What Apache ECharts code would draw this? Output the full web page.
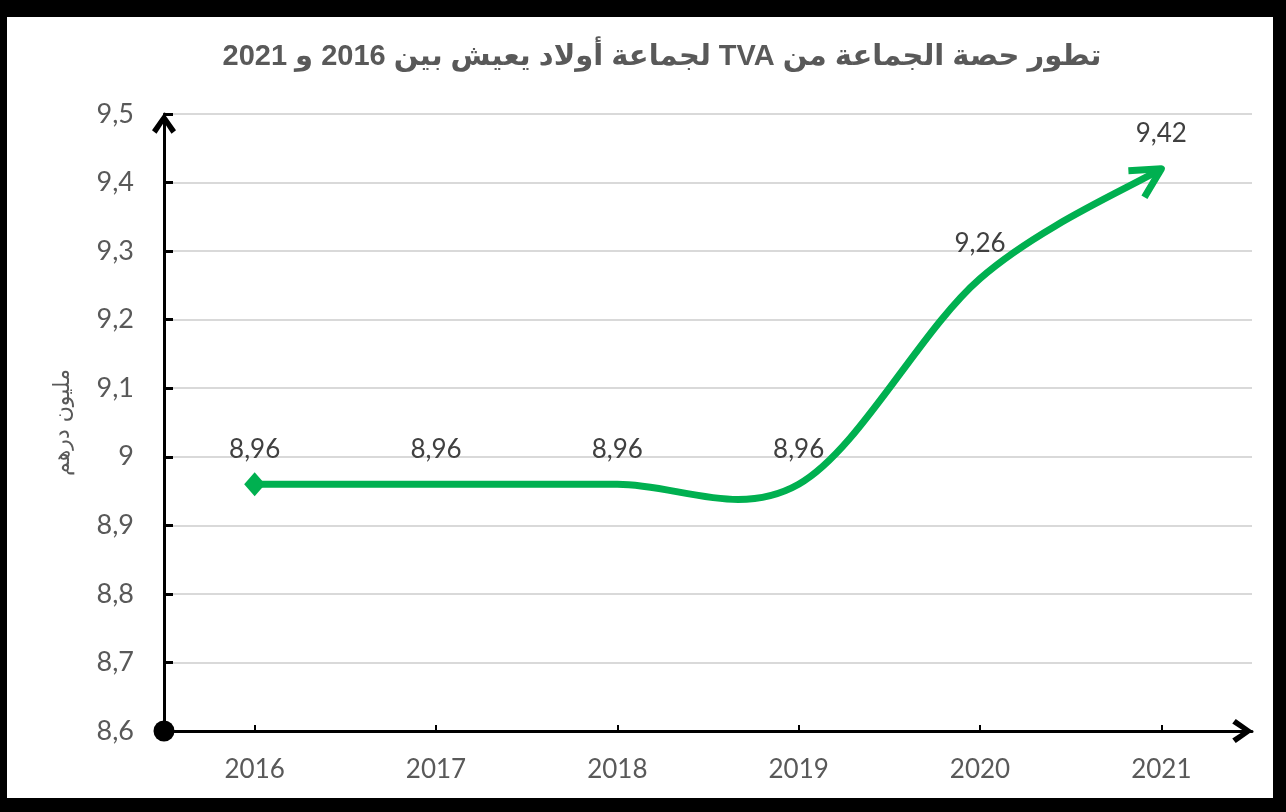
<!DOCTYPE html>
<html>
<head>
<meta charset="utf-8">
<script src="https://cdn.jsdelivr.net/npm/echarts@6/dist/echarts.min.js"></script>
<style>
  html, body { margin: 0; padding: 0; background: #000; }
  #chart { position: absolute; left: 7px; top: 17px; width: 1266px; height: 781px; background: #fff; }
</style>
</head>
<body>
<div id="chart"></div>
<script>
// السنوات والقيم (مليون درهم)
const years = ['2016', '2017', '2018', '2019', '2020', '2021'];
const values = [8.96, 8.96, 8.96, 8.96, 9.26, 9.42];
const yMin = 8.6, yMax = 9.5, yStep = 0.1;

const titleText = 'تطور حصة الجماعة من TVA لجماعة أولاد يعيش بين 2016 و 2021';
const yName = 'مليون درهم';

const green = '#00b050';
const comma = v => String(+Number(v).toFixed(2)).replace('.', ',');

// رأس سهم المحاور (شكل مفتوح)
const chevronUp = 'path://M12,0 L24,17 L19.5,20.5 L12,9 L4.5,20.5 L0,17 Z';

// منحنى أملس على طريقة Excel (Catmull-Rom) مع سهم في النهاية
function renderCurve(params, api) {
    if (params.dataIndex !== 0) return null;
    const pts = values.map((v, i) => api.coord([i, v]));
    const n = pts.length;
    let d = 'M' + pts[0][0] + ',' + pts[0][1];
    for (let i = 0; i < n - 1; i++) {
        const p0 = pts[Math.max(i - 1, 0)], p1 = pts[i], p2 = pts[i + 1], p3 = pts[Math.min(i + 2, n - 1)];
        const c1 = [p1[0] + (p2[0] - p0[0]) / 6, p1[1] + (p2[1] - p0[1]) / 6];
        const c2 = [p2[0] - (p3[0] - p1[0]) / 6, p2[1] - (p3[1] - p1[1]) / 6];
        d += ' C' + c1.join(',') + ' ' + c2.join(',') + ' ' + p2.join(',');
    }
    // اتجاه السهم من آخر مقطع
    const tip = pts[n - 1], prev = pts[n - 2];
    const ang = Math.atan2(tip[1] - prev[1], tip[0] - prev[0]);
    const arm = 33, spread = 28 * Math.PI / 180;
    const a1 = [tip[0] - arm * Math.cos(ang - spread), tip[1] - arm * Math.sin(ang - spread)];
    const a2 = [tip[0] - arm * Math.cos(ang + spread), tip[1] - arm * Math.sin(ang + spread)];
    return {
        type: 'group',
        children: [
            { type: 'path', shape: { pathData: d }, style: { fill: 'none', stroke: green, lineWidth: 7, lineCap: 'butt' } },
            { type: 'polyline', shape: { points: [a1, tip, a2] }, style: { fill: 'none', stroke: green, lineWidth: 7, lineJoin: 'round', lineCap: 'butt' } }
        ]
    };
}

const markers = values.map((v, i) => {
    if (i === 0) return { value: v, symbol: 'diamond', symbolSize: [21, 24], itemStyle: { color: green }, label: { distance: 10 } };
    return { value: v, symbol: 'circle', symbolSize: 2, itemStyle: { color: 'rgba(0,0,0,0)' } };
});

const chart = echarts.init(document.getElementById('chart'));
chart.setOption({
    animation: false,
    title: {
        text: '\u202B' + titleText + '\u202C',
        left: 650,
        textAlign: 'center',
        top: 20,
        textStyle: { fontFamily: 'Liberation Sans, DejaVu Sans, sans-serif', fontSize: 29, fontWeight: 'bold', color: '#595959' }
    },
    grid: { left: 157, right: 21, top: 97, bottom: 67 },
    xAxis: {
        type: 'category',
        data: years,
        boundaryGap: true,
        axisLine: {
            lineStyle: { color: '#000', width: 3 },
            symbol: ['none', chevronUp],
            symbolSize: [24, 21],
            symbolOffset: [0, -9.5]
        },
        axisTick: { show: true, inside: true, alignWithLabel: true, length: 6, lineStyle: { color: '#000', width: 2 } },
        axisLabel: { margin: 26, fontFamily: 'Lato, sans-serif', fontSize: 26, color: '#595959' },
        splitLine: { show: false }
    },
    yAxis: {
        type: 'value',
        min: yMin,
        max: yMax,
        interval: yStep,
        name: yName,
        nameLocation: 'middle',
        nameRotate: 90,
        nameGap: 90,
        nameTextStyle: { fontFamily: 'DejaVu Sans, sans-serif', fontSize: 22, color: '#595959' },
        axisLine: {
            show: true,
            lineStyle: { color: '#000', width: 3 },
            symbol: ['circle', chevronUp],
            symbolSize: [24, 21],
            symbolOffset: [0, -9.5]
        },
        axisTick: { show: true, inside: true, length: 9, lineStyle: { color: '#000', width: 3 } },
        axisLabel: { margin: 30, fontFamily: 'Lato, sans-serif', fontSize: 27, color: '#595959', formatter: comma },
        splitLine: { show: true, lineStyle: { color: '#d9d9d9', width: 2 } }
    },
    series: [{
        type: 'custom',
        renderItem: renderCurve,
        data: values.map((v, i) => [i, v]),
        encode: { x: 0, y: 1 },
        z: 2
    }, {
        type: 'line',
        data: markers,
        showSymbol: true,
        lineStyle: { width: 0, opacity: 0 },
        label: {
            show: true,
            position: 'top',
            distance: 21,
            fontFamily: 'Lato, sans-serif',
            fontSize: 26,
            color: '#404040',
            formatter: p => comma(p.value)
        },
        z: 3
    }]
});
window.addEventListener('resize', () => chart.resize());
</script>
</body>
</html>
